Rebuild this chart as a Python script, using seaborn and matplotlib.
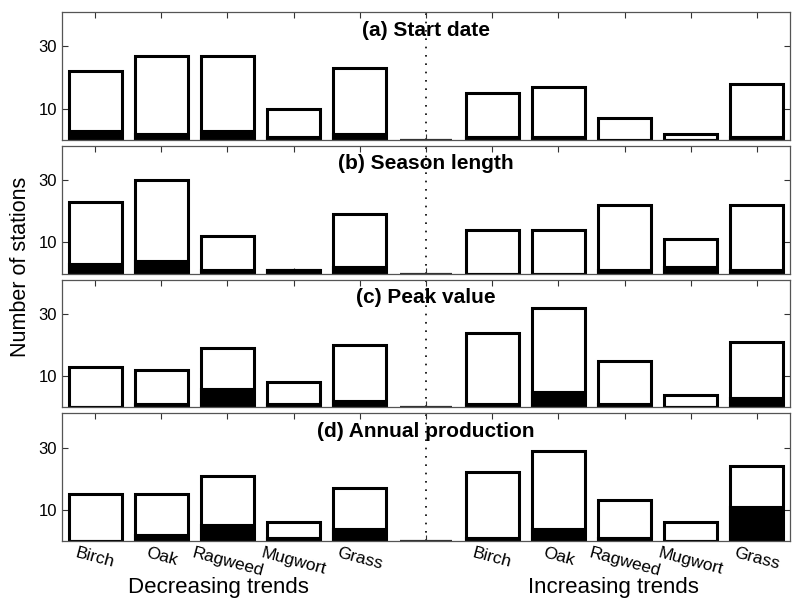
import numpy as np
import pandas as pd
import seaborn as sns
import matplotlib
matplotlib.use("Agg")
import matplotlib.pyplot as plt

# stations per species, decreasing trends (left) and increasing trends (right)
species = ['Birch', 'Oak', 'Ragweed', 'Mugwort', 'Grass']
panel_titles = ['(a) Start date', '(b) Season length', '(c) Peak value', '(d) Annual production']

# all trends
start_dec = [22, 27, 27, 10, 23]
start_inc = [15, 17, 7, 2, 18]
season_dec = [23, 30, 12, 1, 19]
season_inc = [14, 14, 22, 11, 22]
peak_dec = [13, 12, 19, 8, 20]
peak_inc = [24, 32, 15, 4, 21]
annual_dec = [15, 15, 21, 6, 17]
annual_inc = [22, 29, 13, 6, 24]

# significant trends
start_dec_sig = [3, 2, 3, 1, 2]
start_inc_sig = [1, 1, 0, 0, 1]
season_dec_sig = [3, 4, 1, 1, 2]
season_inc_sig = [0, 0, 1, 2, 1]
peak_dec_sig = [0, 1, 6, 1, 2]
peak_inc_sig = [1, 5, 1, 0, 3]
annual_dec_sig = [0, 2, 5, 1, 4]
annual_inc_sig = [1, 4, 1, 0, 11]

yticks = [10, 30]

panels = [
    (start_dec, start_inc, start_dec_sig, start_inc_sig),
    (season_dec, season_inc, season_dec_sig, season_inc_sig),
    (peak_dec, peak_inc, peak_dec_sig, peak_inc_sig),
    (annual_dec, annual_inc, annual_dec_sig, annual_inc_sig),
]

sns.set_style('ticks')
plt.rcParams['font.family'] = ['Liberation Sans', 'DejaVu Sans']
plt.rcParams['text.color'] = 'black'
plt.rcParams['axes.labelcolor'] = 'black'

fig, axes = plt.subplots(4, 1, figsize=(8.0, 6.11), dpi=100)
fig.subplots_adjust(left=0.0775, right=0.9875, top=0.980, bottom=0.1146, hspace=0.047)

positions = list(range(11))
xlabels = species + [''] + species

for ax, title, (dec, inc, dsig, isig) in zip(axes, panel_titles, panels):
    df = pd.DataFrame({
        'pos': positions,
        'total': dec + [0] + inc,
        'sig': dsig + [0] + isig,
    })
    sns.barplot(data=df, x='pos', y='total', order=positions, color='white',
                edgecolor='black', linewidth=2.2, width=0.8, saturation=1,
                errorbar=None, ax=ax)
    sns.barplot(data=df, x='pos', y='sig', order=positions, color='black',
                edgecolor='black', linewidth=1.5, width=0.8, saturation=1,
                errorbar=None, ax=ax)
    # empty middle slot: only a thin line on the baseline
    ax.patches[5].set_linewidth(1.6)
    ax.patches[5].set_edgecolor('#333333')
    ax.patches[5].set_zorder(5)
    ax.patches[-6].set_linewidth(0)

    ax.axvline(5, color='black', linestyle=(0, (1, 4)), linewidth=1.2, zorder=0)

    ax.set_xlim(-0.5, 10.5)
    ax.set_ylim(0, 41)
    ax.set_yticks(yticks)
    ax.set_xticks(positions)
    ax.set_xlabel('')
    ax.set_ylabel('')
    ax.tick_params(direction='in', top=True, right=True, length=4, width=0.8,
                   labelsize=12, colors='#333333', labelcolor='black')
    for s in ax.spines.values():
        s.set_linewidth(0.9)
        s.set_color('#555555')
    ax.text(0.5, 0.86, title, transform=ax.transAxes, ha='center', va='center',
            fontsize=15, fontweight='bold', color='black')

    if ax is axes[-1]:
        ax.set_xticklabels(xlabels, rotation=-15, ha='center', fontsize=12.5)
    else:
        ax.set_xticklabels([])

fig.text(21 / 800, 1 - 267 / 611, 'Number of stations', rotation=90,
         ha='center', va='center', fontsize=15.5, color='black')
fig.text(218 / 800, 1 - 587 / 611, 'Decreasing trends', ha='center', va='center',
         fontsize=16, color='black')
fig.text(613 / 800, 1 - 587 / 611, 'Increasing trends', ha='center', va='center',
         fontsize=16, color='black')

fig.savefig('out.png', dpi=100)
